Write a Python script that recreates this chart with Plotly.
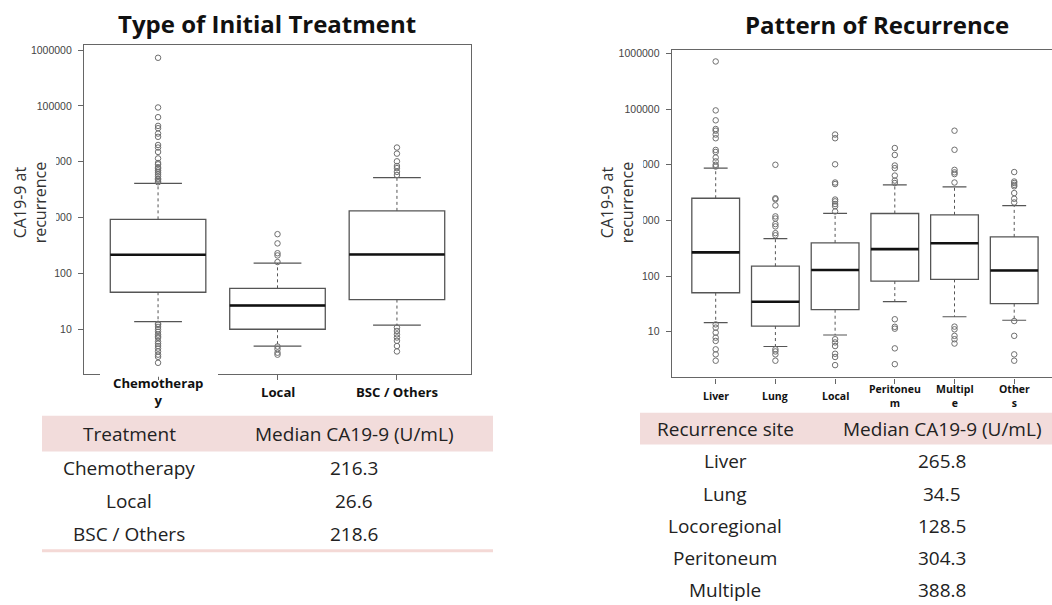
import plotly.graph_objects as go

W, H = 1052, 605

# ---------------- data: left panel (Type of Initial Treatment) ----------------
treat_labels = ["Chemotherap<br>y", "Local", "BSC / Others"]
treat_q1 = [46, 10, 34]
treat_median = [216.3, 26.6, 218.6]
treat_q3 = [930, 54, 1320]
treat_lowwhisk = [13.7, 5.0, 11.8]
treat_upwhisk = [4100, 153, 5200]
treat_outliers = [
    [730000, 94000, 63000, 44000, 40000, 32000, 28000, 20000, 18000, 15000, 11500, 9500,
     9000, 8000, 7500, 7000, 6500, 6000, 5500, 5000, 4800, 4500, 4300,
     12.5, 12, 11, 10, 9, 8, 7.5, 7, 6, 5.5, 5, 4.5, 4, 3.5, 3.2, 2.5],
    [505, 345, 230, 210, 160, 4.9, 4.4, 3.8, 3.5],
    [18000, 14000, 10200, 8400, 7700, 6600, 5800, 10.7, 9.3, 8.1, 7.1, 6.2, 5.0, 4.0],
]

# ---------------- data: right panel (Pattern of Recurrence) ----------------
site_labels = ["Liver", "Lung", "Local", "Peritoneu<br>m", "Multipl<br>e", "Other<br>s"]
site_q1 = [50, 12.6, 24.8, 81, 87, 31.8]
site_median = [265.8, 34.5, 128.5, 304.3, 388.8, 126]
site_q3 = [2500, 150, 394, 1330, 1260, 505]
site_lowwhisk = [14.5, 5.4, 8.7, 34.5, 18.5, 16]
site_upwhisk = [8700, 470, 1340, 4350, 4000, 1850]
site_outliers = [
    [720000, 95000, 63000, 44000, 41000, 35000, 30000, 18500, 17000, 13500, 11500, 10000, 9300,
     13.5, 11.8, 9.6, 7.8, 6.8, 4.8, 3.9, 3.0],
    [10000, 2500, 2400, 1860, 1180, 1080, 860, 780, 590, 540, 4.8, 4.4, 3.9, 3.0],
    [35000, 30000, 10200, 4800, 4500, 2370, 2200, 1970, 1800, 1450, 7.3, 6.4, 5.5, 4.0, 3.5, 2.5],
    [20000, 15000, 9700, 8700, 6400, 5200, 4700, 16.7, 12.2, 11.3, 5.0, 2.6],
    [41000, 18600, 8100, 7300, 6800, 4800, 12.3, 11.0, 8.4, 7.3, 6.1],
    [7400, 5000, 4700, 4350, 4100, 3100, 2450, 2100, 15.5, 8.4, 3.9, 3.0],
]

# ---------------- table data ----------------
tab1_header = ["Treatment", "Median CA19-9 (U/mL)"]
tab1_rows = ["Chemotherapy", "Local", "BSC / Others"]
tab1_vals = ["216.3", "26.6", "218.6"]
tab2_header = ["Recurrence site", "Median CA19-9 (U/mL)"]
tab2_rows = ["Liver", "Lung", "Locoregional", "Peritoneum", "Multiple"]
tab2_vals = ["265.8", "34.5", "128.5", "304.3", "388.8"]

ytick_vals = [10, 100, 1000, 10000, 100000, 1000000]
ytick_text = ["10", "100", "1000", "10000", "100000", "1000000"]

titles = ["Type of Initial Treatment", "Pattern of Recurrence"]
ytitle = "CA19-9 at<br>recurrence"


def px_x(p):
    return p / W


def px_y(p):
    return 1 - p / H


fig = go.Figure()

BOXW = 0.8
CAPW = 0.4
LINEC = "#555555"


def add_panel(xa, ya, q1, med, q3, lw, uw, outs):
    n = len(q1)
    pos = list(range(n))
    fig.add_trace(go.Box(
        x=pos, q1=q1, median=med, q3=q3, lowerfence=q1, upperfence=q3,
        width=BOXW, fillcolor="white", line=dict(color=LINEC, width=1.3),
        whiskerwidth=0, boxpoints=False, showlegend=False, hoverinfo="skip",
        xaxis=xa, yaxis=ya,
    ))
    for i in pos:
        # dotted whiskers
        fig.add_trace(go.Scatter(x=[i, i], y=[q3[i], uw[i]], mode="lines",
                                 line=dict(color=LINEC, width=1, dash="dot"),
                                 showlegend=False, hoverinfo="skip", xaxis=xa, yaxis=ya))
        fig.add_trace(go.Scatter(x=[i, i], y=[q1[i], lw[i]], mode="lines",
                                 line=dict(color=LINEC, width=1, dash="dot"),
                                 showlegend=False, hoverinfo="skip", xaxis=xa, yaxis=ya))
        # caps
        for v in (uw[i], lw[i]):
            fig.add_trace(go.Scatter(x=[i - CAPW / 2, i + CAPW / 2], y=[v, v], mode="lines",
                                     line=dict(color=LINEC, width=1.2),
                                     showlegend=False, hoverinfo="skip", xaxis=xa, yaxis=ya))
        # thick median
        fig.add_trace(go.Scatter(x=[i - BOXW / 2, i + BOXW / 2], y=[med[i], med[i]], mode="lines",
                                 line=dict(color="#111111", width=2.6),
                                 showlegend=False, hoverinfo="skip", xaxis=xa, yaxis=ya))
        # outliers
        fig.add_trace(go.Scatter(x=[i] * len(outs[i]), y=outs[i], mode="markers",
                                 marker=dict(symbol="circle-open", size=5.5, color="#6f6f6f",
                                             line=dict(width=1)),
                                 showlegend=False, hoverinfo="skip", xaxis=xa, yaxis=ya))


add_panel("x", "y", treat_q1, treat_median, treat_q3, treat_lowwhisk, treat_upwhisk, treat_outliers)
add_panel("x2", "y2", site_q1, site_median, site_q3, site_lowwhisk, site_upwhisk, site_outliers)

axis_common = dict(showgrid=False, zeroline=False, linecolor="#666666", linewidth=1.2,
                   ticks="outside", tickcolor="#666666", ticklen=5, tickwidth=1)
ytickfont = dict(family="Liberation Sans", size=10.5, color="#444444")

fig.update_layout(
    width=W, height=H, margin=dict(l=0, r=0, t=0, b=0),
    paper_bgcolor="white", plot_bgcolor="white",
    font=dict(family="Open Sans", color="#222222"),
    xaxis=dict(domain=[px_x(84), px_x(471)], range=[-0.62, 2.62], showline=True, mirror=True,
               tickvals=[0, 1, 2], showticklabels=False, anchor="y", **axis_common),
    yaxis=dict(domain=[px_y(373), px_y(43)], type="log", range=[0.202, 6.095], showline=True,
               mirror=True, tickvals=ytick_vals, ticktext=ytick_text, anchor="x",
               ticklabelstandoff=4, tickfont=ytickfont, **axis_common),
    xaxis2=dict(domain=[px_x(671.7), 1.0], range=[-0.737, 5.633], showline=True, mirror=True,
                tickvals=list(range(6)), showticklabels=False, anchor="y2", **axis_common),
    yaxis2=dict(domain=[px_y(376.7), px_y(47.7)], type="log", range=[0.176, 6.072], showline=True,
                mirror=False, tickvals=ytick_vals, ticktext=ytick_text, anchor="x2",
                ticklabelstandoff=4, tickfont=ytickfont, **axis_common),
)

ann = []
shapes = []


def txt(text, x, y, font, xref="paper", **kw):
    d = dict(text=text, x=x, y=y, xref=xref, yref="paper", showarrow=False,
             xanchor="center", yanchor="middle", font=font)
    d.update(kw)
    ann.append(d)


# chart titles
tfont_title = dict(family="Open Sans", size=24, color="#111111")
txt("<b>" + titles[0] + "</b>", px_x(267), px_y(22), tfont_title)
txt("<b>" + titles[1] + "</b>", px_x(877), px_y(23), tfont_title)

# y-axis titles (white background covering part of tick labels)
for cx in (30, 617):
    txt(ytitle, px_x(cx), px_y(201), dict(family="Open Sans", size=16, color="#333333"),
        textangle=-90, bgcolor="white", borderpad=4)

# x category labels (vertically centred like the original)
for i, lab in enumerate(treat_labels):
    txt("<b>" + lab + "</b>", i, px_y(391), dict(family="Open Sans", size=13.2, color="#111111"),
        xref="x")
for i, lab in enumerate(site_labels):
    txt("<b>" + lab + "</b>", i, px_y(395), dict(family="Open Sans", size=10.5, color="#111111"),
        xref="x2")

# gap in the left bottom frame line (as in the original)
shapes.append(dict(type="rect", xref="paper", yref="paper", x0=px_x(100), x1=px_x(218),
                   y0=px_y(376), y1=px_y(371), fillcolor="white", line=dict(width=0), layer="above"))

# ---------------- table 1 ----------------
PINK = "#f2dcdb"
shapes.append(dict(type="rect", xref="paper", yref="paper", x0=px_x(42), x1=px_x(493),
                   y0=px_y(451), y1=px_y(415), fillcolor=PINK, line=dict(width=0), layer="below"))
shapes.append(dict(type="rect", xref="paper", yref="paper", x0=px_x(42), x1=px_x(493),
                   y0=px_y(552), y1=px_y(549), fillcolor="#f4d9d6", line=dict(width=0)))
tfont = dict(family="Open Sans", size=19, color="#222222")
txt(tab1_header[0], px_x(129), px_y(433), tfont)
txt(tab1_header[1], px_x(354), px_y(433), tfont)
for k, (r, v) in enumerate(zip(tab1_rows, tab1_vals)):
    yy = 468 + k * 33
    txt(r, px_x(129), px_y(yy), tfont)
    txt(v, px_x(354), px_y(yy), tfont)

# ---------------- table 2 ----------------
shapes.append(dict(type="rect", xref="paper", yref="paper", x0=px_x(640), x1=1.0,
                   y0=px_y(444), y1=px_y(412), fillcolor=PINK, line=dict(width=0), layer="below"))
txt(tab2_header[0], px_x(725), px_y(428), tfont)
txt(tab2_header[1], px_x(942), px_y(428), tfont)
for k, (r, v) in enumerate(zip(tab2_rows, tab2_vals)):
    yy = 461 + k * 32.3
    txt(r, px_x(725), px_y(yy), tfont)
    txt(v, px_x(942), px_y(yy), tfont)

fig.update_layout(annotations=ann, shapes=shapes)
fig.write_html("out.html")
